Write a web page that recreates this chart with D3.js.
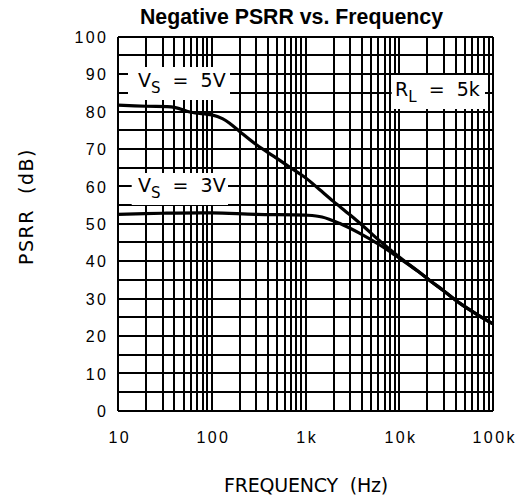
<!DOCTYPE html>
<html><head><meta charset="utf-8">
<script src="https://cdn.jsdelivr.net/npm/d3@7"></script>
<style>body{margin:0;background:#fff}svg{display:block}</style>
</head><body>
<script>
const title = "Negative PSRR vs. Frequency";
const xTickValues = [10, 100, 1000, 10000, 100000];
const xTickLabels = ["10", "100", "1k", "10k", "100k"];
const yTickValues = [0,10,20,30,40,50,60,70,80,90,100];
const freq5V = [10,20,40,60,100,130,160,200,300,500,700,1000,1400,2000,3000,4500,6200,10000,16000,21000,30000,44500,70000,100000];
const psrr5V = [81.7,81.4,81.1,79.8,79.1,78.1,76.6,74.6,71.1,67.4,64.9,62.3,59.2,55.9,52.3,48.5,45.4,41.1,37.2,34.9,32.0,28.7,25.5,23.2];
const freq3V = [10,30,100,300,1000,1500,2300,3800,6200,10000,16000,21000,30000,44500,70000,100000];
const psrr3V = [52.5,52.8,52.9,52.5,52.3,51.8,50.1,47.4,44.3,40.8,37.2,34.9,32.0,28.7,25.5,23.2];

const W=522,H=500;
const L=118,R=493,T=36.7,B=410.7;
const svg=d3.select("body").append("svg").attr("width",W).attr("height",H);
const x=d3.scaleLog().domain([10,100000]).range([L,R]);
const y=d3.scaleLinear().domain([0,100]).range([B,T]);

const vgrid=[];
for(let k=10;k<100000;k*=10){for(let m=1;m<10;m++)vgrid.push(k*m);}
vgrid.push(100000);
const hgrid=d3.range(0,101,5);

const g=svg.append("g").attr("shape-rendering","crispEdges");
g.selectAll("line.v").data(vgrid).enter().append("line")
 .attr("x1",d=>x(d)).attr("x2",d=>x(d)).attr("y1",T).attr("y2",B)
 .attr("stroke","#000").attr("stroke-width",2);
g.selectAll("line.h").data(hgrid).enter().append("line")
 .attr("x1",L).attr("x2",R).attr("y1",d=>y(d)).attr("y2",d=>y(d))
 .attr("stroke","#000").attr("stroke-width",2);

const boxes=[[128,67,102,33],[131.7,173,96.3,32],[391.7,75,93.3,34]];
svg.selectAll("rect.b").data(boxes).enter().append("rect")
 .attr("x",d=>d[0]).attr("y",d=>d[1]).attr("width",d=>d[2]).attr("height",d=>d[3]).attr("fill","#fff");

const line=d3.line().x(d=>x(d[0])).y(d=>y(d[1])).curve(d3.curveCatmullRom.alpha(0.5));
svg.append("path").datum(d3.zip(freq3V,psrr3V)).attr("d",line).attr("fill","none").attr("stroke","#000").attr("stroke-width",3.2);
svg.append("path").datum(d3.zip(freq5V,psrr5V)).attr("d",line).attr("fill","none").attr("stroke","#000").attr("stroke-width",3.2);

const tickFont="Liberation Sans, Arial";
const xa=d3.axisBottom(x).tickValues(xTickValues).tickFormat((d,i)=>xTickLabels[i]).tickSize(0).tickPadding(0);
const xg=svg.append("g").attr("transform",`translate(0,${B})`).call(xa);
xg.select(".domain").remove();
xg.selectAll("text").attr("x",1.2).attr("y",32.3).attr("dy",0).attr("font-family",tickFont).attr("font-size",16).attr("letter-spacing",2.4).attr("fill","#000");
const ya=d3.axisLeft(y).tickValues(yTickValues).tickSize(0).tickPadding(0);
const yg=svg.append("g").attr("transform",`translate(108.4,0)`).call(ya);
yg.select(".domain").remove();
yg.selectAll("text").attr("x",0).attr("dy","0.36em").attr("font-family",tickFont).attr("font-size",16).attr("letter-spacing",2.4).attr("fill","#000");

svg.append("text").attr("x",291.5).attr("y",24).attr("text-anchor","middle")
 .attr("font-family","Liberation Sans, Arial").attr("font-weight","bold").attr("font-size",21.3).text(title);

svg.append("text").attr("x",306).attr("y",492).attr("text-anchor","middle")
 .attr("font-family","DejaVu Sans").attr("font-size",19).attr("letter-spacing",-0.2).text("FREQUENCY\u00a0\u00a0(Hz)");
svg.append("text").attr("transform","translate(33,206.5) rotate(-90)").attr("text-anchor","middle")
 .attr("font-family","DejaVu Sans").attr("font-size",19).attr("letter-spacing",1.5).text("PSRR\u00a0\u00a0(dB)");

function ann(x0,base,main,sub,rest){
  const t=svg.append("text").attr("x",x0).attr("y",base).attr("font-family","DejaVu Sans").attr("font-size",19).attr("fill","#000");
  t.append("tspan").text(main);
  t.append("tspan").attr("font-size",15).attr("dy",6).text(sub);
  t.append("tspan").attr("dy",-6).text(rest);
}
ann(138,86.7,"V","S","\u00a0\u00a0=\u00a0\u00a05V");
ann(138,192,"V","S","\u00a0\u00a0=\u00a0\u00a03V");
ann(395,96,"R","L","\u00a0\u00a0=\u00a0\u00a05k");
</script>
</body></html>
